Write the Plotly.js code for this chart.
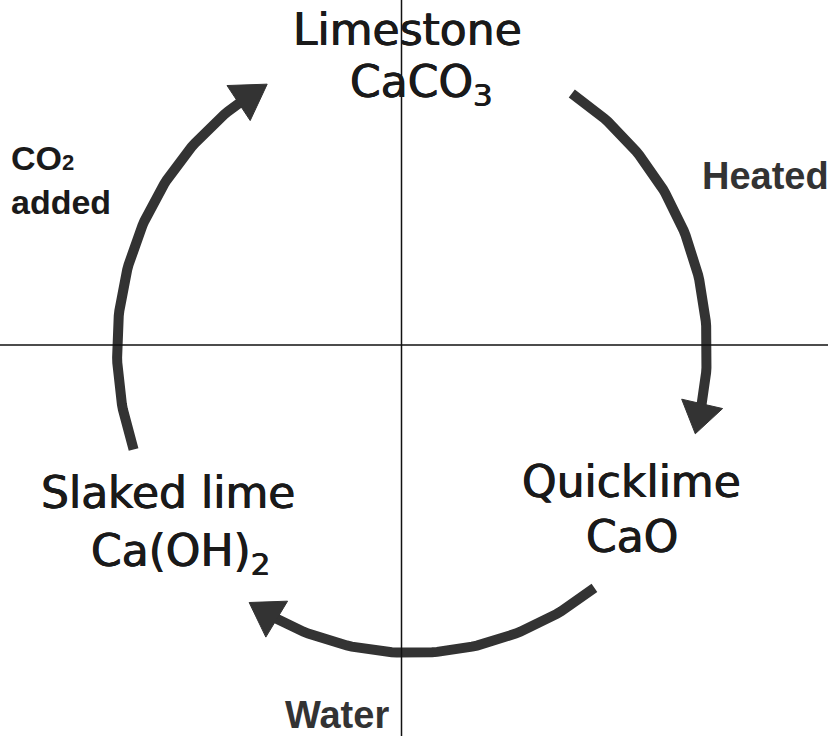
<!DOCTYPE html>
<html><head><meta charset="utf-8">
<script src="https://cdn.plot.ly/plotly-3.0.1.min.js"></script>
<style>html,body{margin:0;padding:0;background:#fff;overflow:hidden}</style>
</head><body><div id="chart" style="width:828px;height:736px"></div>
<script>
// ---- content ----
const stages = ['Limestone', 'Quicklime', 'Slaked lime'];
const formulas = ['CaCO<sub>3</sub>', 'CaO', 'Ca(OH)<sub>2</sub>'];
const processes = ['Heated', 'Water', 'CO<span style="font-size:22px">2</span><br>added'];
// each step of the cycle drawn as an arc (degrees on the cycle, clockwise)
const arcStartDeg = [57.2, -51.8, 199.3];
const arcHeadDeg = [-10.4, -117.3, 126.0];
const arcTipDeg = [-16.2, -123.5, 119.4];

// ---- layout / geometry (pixel-like data units) ----
const cycle = {cx: 10.5, cy: -4, rx: 295, ry: 304};
const stagePos = [[6, 315.5], [230, -136.5], [-233.5, -147]];
const formulaPos = [[19.5, 261], [230, -191.5], [-221.5, -208]];
const processPos = [[363.5, 169.5, 'center'], [-65, -370, 'center'], [-392.5, 165, 'left']];
const processSize = [38, 38, 34];
const arcColor = '#333333';
const headWidth = 42;

function pt(deg) {
  const t = deg * Math.PI / 180;
  return [cycle.cx + cycle.rx * Math.cos(t), cycle.cy + cycle.ry * Math.sin(t)];
}

const traces = [];
for (let i = 0; i < arcStartDeg.length; i++) {
  const a0 = arcStartDeg[i];
  const a1 = (arcHeadDeg[i] + arcTipDeg[i]) / 2;
  const n = Math.ceil(Math.abs(a0 - a1)) + 1;
  const xs = [], ys = [];
  for (let k = 0; k <= n; k++) {
    const p = pt(a0 + (a1 - a0) * k / n);
    xs.push(p[0]); ys.push(p[1]);
  }
  traces.push({type: 'scatter', mode: 'lines', x: xs, y: ys,
    line: {color: arcColor, width: 10}, hoverinfo: 'skip', showlegend: false});
  const T = pt(arcTipDeg[i]), M = pt(arcHeadDeg[i]);
  const dx = T[0] - M[0], dy = T[1] - M[1];
  const L = Math.hypot(dx, dy);
  const nx = -dy / L, ny = dx / L;
  const h = headWidth / 2;
  traces.push({type: 'scatter', mode: 'lines', fill: 'toself', fillcolor: arcColor,
    x: [T[0], M[0] + nx * h, M[0] - nx * h, T[0]],
    y: [T[1], M[1] + ny * h, M[1] - ny * h, T[1]],
    line: {color: arcColor, width: 1}, hoverinfo: 'skip', showlegend: false});
}

const bigFont = {family: 'DejaVu Sans', size: 44, color: '#1a1a1a',
  shadow: '0.5px 0 0 #1a1a1a, -0.5px 0 0 #1a1a1a'};
const annotations = [];
stages.forEach((s, i) => annotations.push({x: stagePos[i][0], y: stagePos[i][1], xref: 'x', yref: 'y',
  text: s, showarrow: false, xanchor: 'center', yanchor: 'middle', font: bigFont}));
formulas.forEach((s, i) => annotations.push({x: formulaPos[i][0], y: formulaPos[i][1], xref: 'x', yref: 'y',
  text: s, showarrow: false, xanchor: 'center', yanchor: 'middle', font: bigFont}));
processes.forEach((s, i) => annotations.push({x: processPos[i][0], y: processPos[i][1], xref: 'x', yref: 'y',
  text: s, showarrow: false, xanchor: processPos[i][2], align: processPos[i][2], yanchor: 'middle',
  font: {family: 'Liberation Sans', size: processSize[i], weight: 'bold', color: i === 2 ? '#1a1a1a' : '#333333'}}));

const layout = {
  width: 828, height: 736,
  margin: {l: 0, r: 0, t: 0, b: 0},
  paper_bgcolor: '#ffffff', plot_bgcolor: '#ffffff',
  xaxis: {range: [-401.5, 426.5], visible: false, fixedrange: true},
  yaxis: {range: [-391, 345], visible: false, fixedrange: true},
  shapes: [
    {type: 'line', layer: 'above', xref: 'x', yref: 'paper', x0: 0, x1: 0, y0: 0, y1: 1, line: {color: '#111', width: 1.5}},
    {type: 'line', layer: 'above', xref: 'paper', yref: 'y', x0: 0, x1: 1, y0: 0, y1: 0, line: {color: '#111', width: 1.5}}
  ],
  annotations: annotations,
  showlegend: false
};
Plotly.newPlot('chart', traces, layout, {staticPlot: true, displayModeBar: false});
</script>
</body></html>
